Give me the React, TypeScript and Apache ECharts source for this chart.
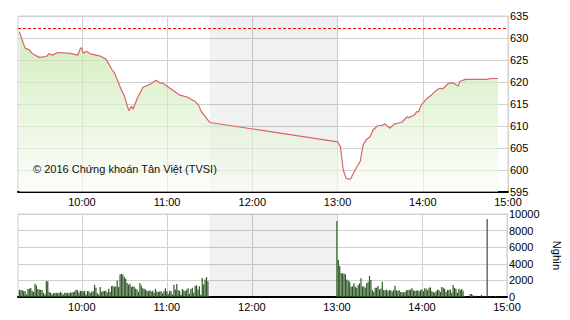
import React, { useEffect, useRef } from "react";
import * as echarts from "echarts";

// Price line (time "H:MM", index value)
const priceTimes = [
  "9:16","9:20","9:23","9:25","9:30","9:35","9:37","9:39","9:43","9:52",
  "9:57","9:59","10:00","10:01","10:03","10:06","10:13","10:17","10:21","10:23",
  "10:27","10:30","10:33","10:35","10:36","10:39","10:43","10:48","10:52","10:55",
  "10:57","11:02","11:09","11:14","11:20","11:22","11:24","11:30",
  "13:00","13:02","13:04","13:06","13:09","13:10","13:13","13:16","13:18","13:20",
  "13:23","13:25","13:28","13:32","13:33","13:37","13:40","13:45","13:49","13:50",
  "13:54","13:56","13:57","13:59","14:03","14:06","14:09","14:12","14:14","14:18",
  "14:21","14:25","14:26","14:30","14:45","14:48","14:53"
];
const priceValues = [
  631.4,627.7,627.3,626.5,625.6,625.8,626.5,626.1,626.7,626.5,
  626.1,627.7,627.7,626.5,627.0,626.4,625.9,625.2,622.9,622.0,
  618.8,616.7,613.5,614.5,613.8,616.3,618.8,619.5,620.4,619.8,
  619.7,618.6,617.0,616.6,615.5,614.8,613.3,610.8,
  606.4,605.3,600.0,598.1,597.9,598.5,600.4,602.0,605.7,606.8,
  607.6,609.1,610.0,610.2,610.5,609.5,610.5,610.8,612.1,611.9,
  612.5,613.3,613.2,614.8,616.3,617.0,618.0,618.6,618.4,619.7,
  619.8,619.1,620.1,620.6,620.6,620.8,620.8
];
const referencePrice = 632.2;

// Volume per minute (thousand shares)
const morningStart = "9:16";
const morningVolumes = [
  870,800,850,700,720,300,950,1000,1080,750,
  600,1600,1400,950,900,880,850,500,300,1900,
  1900,600,500,300,450,480,500,450,480,600,
  450,300,520,480,500,430,560,520,600,650,
  880,820,500,750,720,650,750,300,720,700,
  480,650,700,1470,1100,450,300,1200,600,720,
  720,750,550,1000,600,1300,1350,1250,1300,2000,
  1200,2700,2800,2700,2400,2200,1700,1500,1600,1200,
  1300,1250,1000,900,600,1700,1400,1050,1000,900,
  750,700,800,650,750,500,1000,650,600,650,
  700,450,700,1050,700,400,750,700,300,1480,
  900,1570,800,750,300,950,800,700,900,1050,
  400,950,1100,500,1350,1400,900,1300,300,2300,
  1500,2100,2400,1900,100
];
const afternoonStart = "13:00";
const afternoonVolumes = [
  9150,4450,3730,2900,2850,2800,2750,2100,2000,1850,
  1250,1300,1650,1250,1100,1450,1650,2250,1250,1300,
  1100,1650,1850,2530,2050,840,600,1120,1100,1320,
  900,1000,1850,850,800,900,700,850,800,650,
  850,1360,800,750,800,600,560,560,600,800,
  850,850,900,1040,800,750,750,800,700,850,
  900,700,1040,1000,800,1100,1160,700,600,500,
  700,900,850,600,1200,1100,1000,600,850,850,
  900,500,1440,1100,1000,500,1000,850,950,750,
  100,0,0,0,360,360,200,0,150,0,
  0,0,250,0,100,0,9400,0,100,0,
  0,0,100
];

const timeTicks = ["10:00", "11:00", "12:00", "13:00", "14:00", "15:00"];
const gridTicks = ["10:00", "11:00", "12:00", "13:00", "14:00"];
const sessionStart = "9:15";
const sessionEnd = "15:00";
const breakStart = "11:30";
const breakEnd = "13:00";
const priceTicks = [595, 635, 5];
const volumeTicks = [0, 10000, 2000];
const volumeUnit = "Nghìn";
const watermark = "© 2016 Chứng khoán Tân Việt (TVSI)";

const toMin = (s: string) => {
  const [h, m] = s.split(":").map(Number);
  return h * 60 + m;
};
const fmt = (v: number) => {
  const h = Math.floor(v / 60);
  const m = Math.round(v - h * 60);
  return `${h}:${m < 10 ? "0" + m : m}`;
};

const FONT = "'Liberation Sans', Arial, sans-serif";

export default function App() {
  const ref = useRef<HTMLDivElement>(null);
  useEffect(() => {
    if (!ref.current) return;
    const chart = echarts.init(ref.current, null, { renderer: "svg" });
    const priceData = priceTimes.map((t, i) => [toMin(t), priceValues[i]]);
    const ms = toMin(morningStart);
    const as = toMin(afternoonStart);
    const volData = [
      ...morningVolumes.map((v, i) => [ms + i, v]),
      ...afternoonVolumes.map((v, i) => [as + i, v]),
    ];
    const labelVals = timeTicks.map(toMin);
    const lineVals = gridTicks.map(toMin);
    const xMin = toMin(sessionStart);
    const xMax = toMin(sessionEnd);
    const gridLine = { lineStyle: { color: "#d0d0d0", width: 1 } };
    const xAxisCommon = (gi: number) => ({
      type: "value",
      gridIndex: gi,
      min: xMin,
      max: xMax,
      axisLine: { show: true, onZero: false, lineStyle: { color: "#000", width: 2 } },
      axisTick: { show: false, customValues: lineVals },
      axisLabel: {
        customValues: labelVals,
        formatter: (v: number) => fmt(v),
        color: "#000",
        fontSize: 11,
        fontFamily: FONT,
        margin: 4,
      },
      splitLine: { show: true, ...gridLine },
    });
    const shade = {
      silent: true,
      itemStyle: { color: "rgba(0,0,0,0.055)" },
      data: [[{ xAxis: toMin(breakStart) }, { xAxis: toMin(breakEnd) }]],
    };
    chart.setOption({
      animation: false,
      grid: [
        { left: 18, top: 16, width: 490, height: 176, show: true, borderColor: "#d0d0d0", borderWidth: 1 },
        { left: 18, top: 214, width: 490, height: 83, show: true, borderColor: "#d0d0d0", borderWidth: 1 },
      ],
      xAxis: [xAxisCommon(0), xAxisCommon(1)],
      yAxis: [
        {
          type: "value",
          gridIndex: 0,
          position: "right",
          min: priceTicks[0],
          max: priceTicks[1],
          interval: priceTicks[2],
          axisLine: { show: true, lineStyle: { color: "#d0d0d0" } },
          axisTick: { show: false },
          axisLabel: { color: "#000", fontSize: 11, fontFamily: FONT, margin: 2 },
          splitLine: { show: true, ...gridLine },
        },
        {
          type: "value",
          gridIndex: 1,
          position: "right",
          min: volumeTicks[0],
          max: volumeTicks[1],
          interval: volumeTicks[2],
          name: volumeUnit,
          nameLocation: "middle",
          nameRotate: -90,
          nameGap: 44,
          nameTextStyle: { color: "#000", fontSize: 11, fontFamily: FONT },
          axisLine: { show: true, lineStyle: { color: "#d0d0d0" } },
          axisTick: { show: false },
          axisLabel: {
            color: "#000",
            fontSize: 11,
            fontFamily: FONT,
            margin: 2,
            formatter: (v: number) => String(v),
          },
          splitLine: { show: true, ...gridLine },
        },
      ],
      series: [
        {
          type: "line",
          xAxisIndex: 0,
          yAxisIndex: 0,
          data: priceData,
          symbol: "none",
          lineStyle: { color: "#d8646c", width: 1.2 },
          areaStyle: {
            origin: "start",
            color: new echarts.graphic.LinearGradient(0, 0, 0, 1, [
              { offset: 0, color: "rgba(190,228,160,0.95)" },
              { offset: 1, color: "rgba(250,253,247,0.9)" },
            ]),
          },
          markArea: shade,
          markLine: {
            silent: true,
            symbol: ["none", "none"],
            label: { show: false },
            lineStyle: { color: "#ff0000", type: [3, 2], width: 1 },
            data: [{ yAxis: referencePrice }],
          },
          z: 3,
        },
        {
          type: "bar",
          xAxisIndex: 1,
          yAxisIndex: 1,
          data: volData,
          barWidth: 1.2,
          itemStyle: { color: "#2f5a26" },
          markArea: shade,
          z: 3,
        },
      ],
      graphic: [
        {
          type: "text",
          left: 33,
          top: 163,
          style: { text: watermark, fill: "#111", font: `11px ${FONT}` },
          z: 10,
        },
      ],
    });
    return () => chart.dispose();
  }, []);
  return (
    <div
      ref={ref}
      style={{ position: "fixed", left: 0, top: 0, width: 570, height: 320, background: "#fff" }}
    />
  );
}
